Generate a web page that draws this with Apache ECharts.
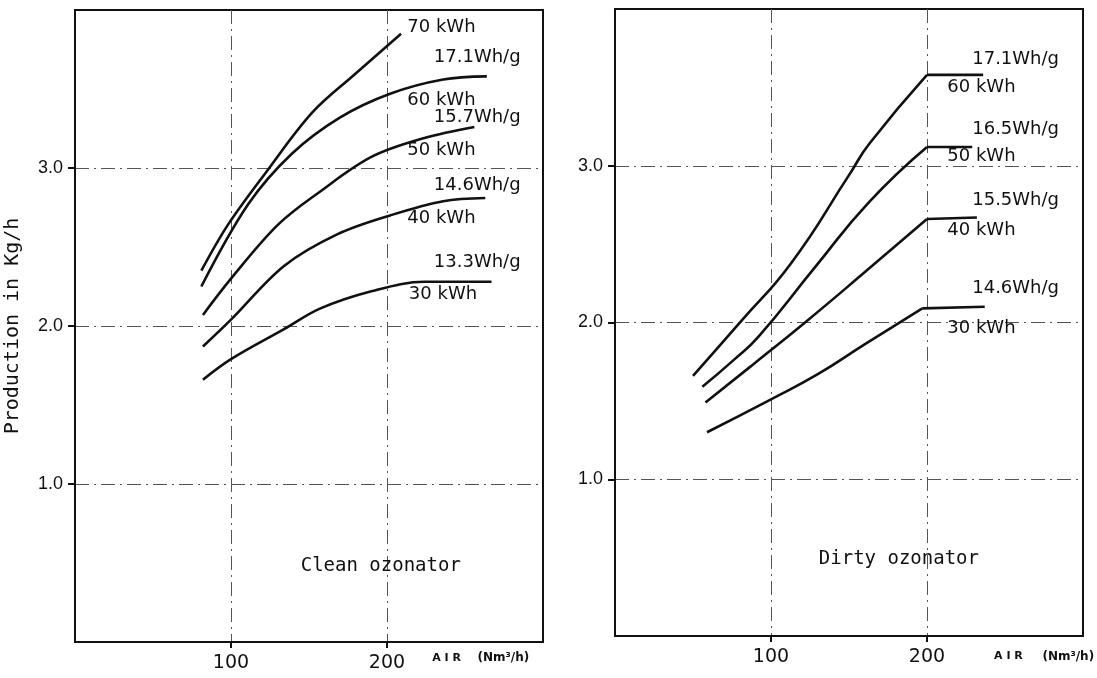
<!DOCTYPE html>
<html>
<head>
<meta charset="utf-8">
<title>Ozonator production</title>
<script src="https://cdn.jsdelivr.net/npm/echarts@6/dist/echarts.min.js"></script>
<style>
  html, body { margin: 0; padding: 0; background: #fff; }
  #chart { width: 1097px; height: 678px; }
</style>
</head>
<body>
<div id="chart"></div>
<script>
// [air flow Nm3/h, production kg/h]
var clean70 = [[81, 2.35], [98, 2.64], [123, 2.98], [152, 3.35], [179, 3.59], [209, 3.85]]
var clean60 = [[81, 2.25], [111, 2.77], [139, 3.09], [170, 3.32], [202, 3.47], [236, 3.56], [264, 3.58]]
var clean50 = [[82, 2.07], [100, 2.30], [130, 2.64], [157, 2.85], [190, 3.07], [224, 3.19], [256, 3.26]]
var clean40 = [[82, 1.87], [100, 2.04], [134, 2.38], [168, 2.58], [202, 2.70], [236, 2.79], [263, 2.81]]
var clean30 = [[82, 1.66], [100, 1.79], [134, 1.98], [157, 2.11], [190, 2.22], [224, 2.28], [267, 2.28]]

// dirty curves: rising part, then a flat run from the corner
var dirty60 = [[50, 1.66], [81, 2.01], [113, 2.38], [150, 2.94], [163, 3.14], [200, 3.58], [236, 3.58]]
var dirty50 = [[56, 1.59], [76, 1.76], [92, 1.91], [128, 2.35], [163, 2.77], [200, 3.12], [229, 3.12]]
var dirty40 = [[58, 1.49], [87, 1.72], [123, 2.01], [160, 2.32], [200, 2.66], [232, 2.67]]
var dirty30 = [[59, 1.30], [100, 1.51], [130, 1.67], [160, 1.86], [197, 2.09], [237, 2.10]]

var cleanText = ['70 kWh', '17.1Wh/g', '60 kWh', '15.7Wh/g', '50 kWh', '14.6Wh/g', '40 kWh', '13.3Wh/g', '30 kWh']
var dirtyText = ['17.1Wh/g', '60 kWh', '16.5Wh/g', '50 kWh', '15.5Wh/g', '40 kWh', '14.6Wh/g', '30 kWh']

var xTicks = [100, 200]
var yTicks = [1, 2, 3]

// where the curve labels sit, in axis units
var cleanAnchor = [[213, 3.89], [230, 3.70], [213, 3.43], [230, 3.32], [213, 3.11], [230, 2.89], [213, 2.68], [230, 2.40], [214, 2.20]]
var dirtyAnchor = [[229, 3.68], [213, 3.50], [229, 3.23], [213, 3.06], [229, 2.78], [213, 2.59], [229, 2.22], [213, 1.96]]

var ink = '#111'
var gridLine = { show: true, lineStyle: { color: '#555', width: 1, type: [14, 5, 2, 5] } }

function xAxisFor(i) {
	return {
		gridIndex: i, type: 'value', min: 0, max: 300, interval: 100,
		axisLine: { show: true, onZero: false, lineStyle: { color: ink, width: 2 } },
		axisTick: { show: true, length: 6, customValues: xTicks, lineStyle: { color: ink, width: 2 } },
		axisLabel: { customValues: xTicks, margin: 12, color: ink, fontSize: 19, fontFamily: 'DejaVu Sans' },
		splitLine: gridLine
	}
}

function yAxisFor(i) {
	return {
		gridIndex: i, type: 'value', min: 0, max: 4, interval: 1,
		name: i === 0 ? 'Production in Kg/h' : '',
		nameLocation: 'middle', nameRotate: 90, nameGap: 52,
		nameTextStyle: { color: ink, fontSize: 20, fontFamily: 'DejaVu Sans Mono' },
		axisLine: { show: true, onZero: false, lineStyle: { color: ink, width: 2 } },
		axisTick: { show: true, length: 7, customValues: yTicks, lineStyle: { color: ink, width: 2 } },
		axisLabel: {
			customValues: yTicks, margin: 12, color: ink, fontSize: 18, fontFamily: 'Liberation Sans',
			formatter: function (v) { return v.toFixed(1) }
		},
		splitLine: gridLine
	}
}

function curve(data, i, smooth) {
	return {
		type: 'line', xAxisIndex: i, yAxisIndex: i, data: data,
		showSymbol: false, smooth: smooth,
		lineStyle: { color: ink, width: 2.6 }, silent: true, animation: false
	}
}

// the dirty plate has a sharp knee, so the rise and the flat run are drawn apart
function kneed(data) {
	var n = data.length
	return [curve(data.slice(0, n - 1), 1, 0.5), curve(data.slice(n - 2), 1, false)]
}

var series = [
	curve(clean70, 0, 0.35), curve(clean60, 0, 0.35), curve(clean50, 0, 0.35),
	curve(clean40, 0, 0.35), curve(clean30, 0, 0.35)
]
;[dirty60, dirty50, dirty40, dirty30].forEach(function (d) { series = series.concat(kneed(d)) })

var chart = echarts.init(document.getElementById('chart'))
chart.setOption({
	backgroundColor: '#fff',
	animation: false,
	grid: [
		{ left: 75, top: 10, width: 468, height: 632, show: true, borderColor: ink, borderWidth: 2 },
		{ left: 615, top: 9, width: 468, height: 627, show: true, borderColor: ink, borderWidth: 2 }
	],
	xAxis: [xAxisFor(0), xAxisFor(1)],
	yAxis: [yAxisFor(0), yAxisFor(1)],
	series: series
})

// text laid on top of the plates, positioned through the axes
function text(i, pos, str, font, align) {
	var p = chart.convertToPixel({ xAxisIndex: i, yAxisIndex: i }, pos)
	return {
		type: 'text', x: p[0], y: p[1], silent: true,
		style: {
			text: str, font: font, fill: ink,
			align: align || 'left', verticalAlign: 'middle',
			textAlign: align || 'left', textVerticalAlign: 'middle'
		}
	}
}

var labelFont = '18px "DejaVu Sans"'
var noteFont = '19px "DejaVu Sans Mono"'
var airFont = 'bold 11px "DejaVu Sans"'
var unitFont = 'bold 12px "DejaVu Sans"'
var graphic = []
cleanText.forEach(function (t, k) { graphic.push(text(0, cleanAnchor[k], t, labelFont)) })
dirtyText.forEach(function (t, k) { graphic.push(text(1, dirtyAnchor[k], t, labelFont)) })
graphic.push(text(0, [196, 0.48], 'Clean ozonator', noteFont, 'center'))
graphic.push(text(1, [182, 0.49], 'Dirty ozonator', noteFont, 'center'))
graphic.push(text(0, [229, -0.1], 'A I R', airFont))
graphic.push(text(0, [258, -0.1], '(Nm³/h)', unitFont))
graphic.push(text(1, [243, -0.13], 'A I R', airFont))
graphic.push(text(1, [274, -0.13], '(Nm³/h)', unitFont))
chart.setOption({ graphic: graphic })
</script>
</body>
</html>
